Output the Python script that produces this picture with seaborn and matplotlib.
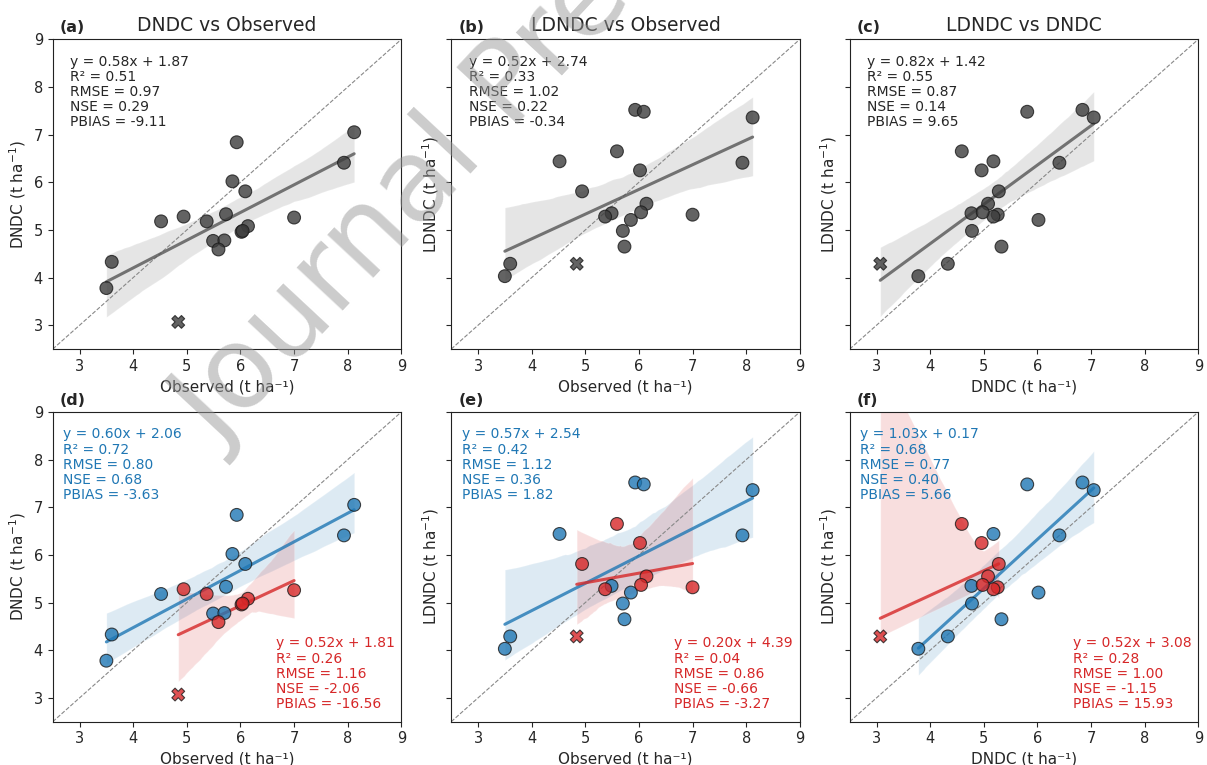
import matplotlib
matplotlib.use("Agg")
import matplotlib.pyplot as plt
import seaborn as sns
import pandas as pd

sns.set_style("ticks")
plt.rcParams['font.family'] = ['DejaVu Sans']
plt.rcParams['axes.edgecolor'] = '#222222'
plt.rcParams['xtick.labelsize'] = 10.5
plt.rcParams['ytick.labelsize'] = 10.5

# Yield data (t ha-1), one entry per site-year
observed = [8.12, 7.93, 5.93, 6.09, 4.52, 5.49, 5.85, 5.70, 5.73, 3.60, 3.50,
            4.94, 7.00, 5.37, 6.14, 5.59, 6.02, 6.04, 4.84]
dndc = [7.05, 6.41, 6.84, 5.81, 5.18, 4.77, 6.02, 4.78, 5.33, 4.33, 3.78,
        5.28, 5.26, 5.18, 5.08, 4.59, 4.96, 4.98, 3.07]
ldndc = [7.36, 6.41, 7.52, 7.48, 6.44, 5.35, 5.21, 4.98, 4.65, 4.29, 4.03,
         5.81, 5.32, 5.28, 5.55, 6.65, 6.25, 5.37, 4.29]
group = ['G1'] * 11 + ['G2'] * 8
marker_kind = ['o'] * 18 + ['X']

# Statistics as printed on each panel
stats_all = [
    ['y = 0.58x + 1.87', 'R² = 0.51', 'RMSE = 0.97', 'NSE = 0.29', 'PBIAS = -9.11'],
    ['y = 0.52x + 2.74', 'R² = 0.33', 'RMSE = 1.02', 'NSE = 0.22', 'PBIAS = -0.34'],
    ['y = 0.82x + 1.42', 'R² = 0.55', 'RMSE = 0.87', 'NSE = 0.14', 'PBIAS = 9.65'],
]
stats_g1 = [
    ['y = 0.60x + 2.06', 'R² = 0.72', 'RMSE = 0.80', 'NSE = 0.68', 'PBIAS = -3.63'],
    ['y = 0.57x + 2.54', 'R² = 0.42', 'RMSE = 1.12', 'NSE = 0.36', 'PBIAS = 1.82'],
    ['y = 1.03x + 0.17', 'R² = 0.68', 'RMSE = 0.77', 'NSE = 0.40', 'PBIAS = 5.66'],
]
stats_g2 = [
    ['y = 0.52x + 1.81', 'R² = 0.26', 'RMSE = 1.16', 'NSE = -2.06', 'PBIAS = -16.56'],
    ['y = 0.20x + 4.39', 'R² = 0.04', 'RMSE = 0.86', 'NSE = -0.66', 'PBIAS = -3.27'],
    ['y = 0.52x + 3.08', 'R² = 0.28', 'RMSE = 1.00', 'NSE = -1.15', 'PBIAS = 15.93'],
]

pairs = [('Observed', 'DNDC'), ('Observed', 'LDNDC'), ('DNDC', 'LDNDC')]
titles = ['DNDC vs Observed', 'LDNDC vs Observed', 'LDNDC vs DNDC']
xlabels = ['Observed (t ha⁻¹)', 'Observed (t ha⁻¹)', 'DNDC (t ha⁻¹)']
ylabels = ['DNDC (t ha$^{-1}$)', 'LDNDC (t ha$^{-1}$)', 'LDNDC (t ha$^{-1}$)']
panel_tags = [['(a)', '(b)', '(c)'], ['(d)', '(e)', '(f)']]

blue = '#1f77b4'
red = '#d62728'

df = pd.DataFrame({'Observed': observed, 'DNDC': dndc, 'LDNDC': ldndc,
                   'group': group, 'marker': marker_kind})


def draw_group(ax, data, x, y, color, pt_color):
    sns.regplot(data=data, x=x, y=y, ax=ax, scatter=False, ci=95, seed=0,
                color=color, line_kws=dict(lw=2.2, alpha=0.8))
    sns.scatterplot(data=data, x=x, y=y, ax=ax, style='marker',
                    markers={'o': 'o', 'X': 'X'}, color=pt_color, s=85,
                    alpha=0.8, edgecolor='#1a1a1a', linewidth=0.8,
                    legend=False, zorder=3)


fig, axes = plt.subplots(2, 3, figsize=(12.07, 7.65), dpi=100, sharey=True)
fig.subplots_adjust(left=0.0437, right=0.9928, bottom=0.0566, top=0.9486,
                    wspace=0.143, hspace=0.203)

for j, (xc, yc) in enumerate(pairs):
    # top row: all points together
    ax = axes[0, j]
    draw_group(ax, df, xc, yc, '#555555', '#3c3c3c')
    ax.set_title(titles[j], fontsize=13.5)
    ax.text(0.05, 0.95, '\n'.join(stats_all[j]), transform=ax.transAxes,
            ha='left', va='top', fontsize=10, linespacing=1.1)

    # bottom row: split by group
    ax = axes[1, j]
    draw_group(ax, df[df['group'] == 'G1'], xc, yc, blue, blue)
    draw_group(ax, df[df['group'] == 'G2'], xc, yc, red, red)
    ax.text(0.03, 0.95, '\n'.join(stats_g1[j]), transform=ax.transAxes,
            ha='left', va='top', fontsize=10, linespacing=1.1, color=blue)
    ax.text(0.64, 0.035, '\n'.join(stats_g2[j]), transform=ax.transAxes,
            ha='left', va='bottom', fontsize=10, linespacing=1.1, color=red)

for i in range(2):
    for j in range(3):
        ax = axes[i, j]
        ax.plot([2.5, 9], [2.5, 9], ls='--', color='#888888', lw=0.8, zorder=1)
        ax.set_xlim(2.5, 9)
        ax.set_ylim(2.5, 9)
        ax.set_xticks(range(3, 10))
        ax.set_yticks(range(3, 10))
        ax.set_xlabel(xlabels[j], fontsize=11)
        ax.set_ylabel(ylabels[j], fontsize=11)
        ax.text(0.02, 1.013, panel_tags[i][j], transform=ax.transAxes,
                ha='left', va='bottom', fontsize=11.5, fontweight='bold')

# preprint watermark
fig.text(0.182, 0.412, 'Journal Pre-proof', rotation=47, rotation_mode='anchor',
         ha='left', va='baseline', fontsize=82, color='#999999', alpha=0.5,
         zorder=10)

fig.savefig('out.png', dpi=100)
